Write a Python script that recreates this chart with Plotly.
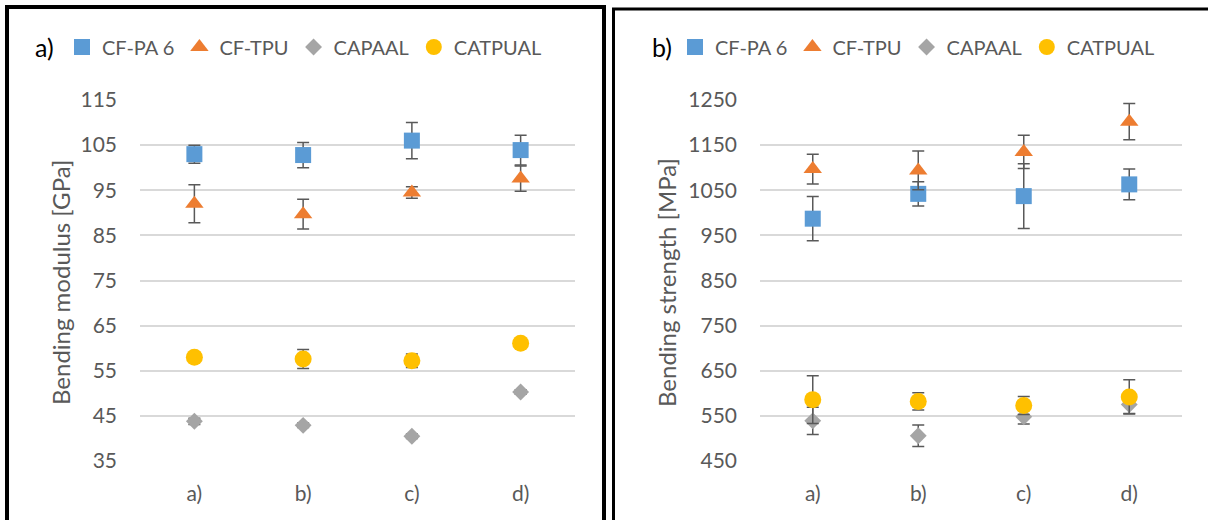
import plotly.graph_objects as go

categories = ["a)", "b)", "c)", "d)"]
series_names = ["CF-PA 6", "CF-TPU", "CAPAAL", "CATPUAL"]

# Bending modulus [GPa]
mod_cfpa6 = [103.0, 102.8, 106.0, 103.9]
mod_cfpa6_err = [2.0, 2.8, 4.0, 3.3]
mod_cftpu = [92.0, 89.7, 94.5, 97.6]
mod_cftpu_err = [4.2, 3.3, 1.3, 2.8]
mod_capaal = [43.8, 42.9, 40.5, 50.3]
mod_capaal_err = [0.7, 0.5, 0.5, 0.5]
mod_catpual = [58.0, 57.6, 57.2, 61.1]
mod_catpual_err = [0.4, 2.1, 1.5, 0.4]

# Bending strength [MPa]
str_cfpa6 = [987, 1042, 1037, 1063]
str_cfpa6_err = [49, 27, 72, 34]
str_cftpu = [1097, 1094, 1135, 1202]
str_cftpu_err = [33, 43, 37, 40]
str_capaal = [539, 506, 548, 575]
str_capaal_err = [30, 24, 16, 20]
str_catpual = [586, 582, 573, 592]
str_catpual_err = [53, 19, 20, 38]

mod_ticks = [35, 45, 55, 65, 75, 85, 95, 105, 115]
str_ticks = [450, 550, 650, 750, 850, 950, 1050, 1150, 1250]

colors = ["#5B9BD5", "#ED7D31", "#A5A5A5", "#FFC000"]
symbols = ["square", "triangle-up", "diamond", "circle"]
sizes = [16, 16, 13, 17]
TXT = "#595959"
FONT = "Lato, Open Sans, sans-serif"

W, H = 1208, 520
fig = go.Figure()

x_idx = list(range(len(categories)))

mod_sets = [(mod_cfpa6, mod_cfpa6_err), (mod_cftpu, mod_cftpu_err),
            (mod_capaal, mod_capaal_err), (mod_catpual, mod_catpual_err)]
str_sets = [(str_cfpa6, str_cfpa6_err), (str_cftpu, str_cftpu_err),
            (str_capaal, str_capaal_err), (str_catpual, str_catpual_err)]

for i, (vals, errs) in enumerate(mod_sets):
    fig.add_trace(go.Scatter(
        x=x_idx, y=vals, mode="markers", name=series_names[i],
        marker=dict(symbol=symbols[i], size=sizes[i], color=colors[i], line=dict(width=0)),
        error_y=dict(type="data", array=errs, visible=True, color=TXT, thickness=1.5, width=6),
        xaxis="x", yaxis="y", legend="legend", cliponaxis=False,
    ))
for i, (vals, errs) in enumerate(str_sets):
    fig.add_trace(go.Scatter(
        x=x_idx, y=vals, mode="markers", name=series_names[i],
        marker=dict(symbol=symbols[i], size=sizes[i], color=colors[i], line=dict(width=0)),
        error_y=dict(type="data", array=errs, visible=True, color=TXT, thickness=1.5, width=6),
        xaxis="x2", yaxis="y2", legend="legend2", cliponaxis=False,
    ))

ydom = [1 - 461 / H, 1 - 100 / H]
common_x = dict(range=[-0.5, 3.5], tickvals=x_idx, ticktext=categories, showgrid=False,
                zeroline=False, showline=False, ticks="", ticklabelstandoff=18,
                tickfont=dict(size=21, color=TXT, family=FONT), fixedrange=True, automargin=False)
common_y = dict(showgrid=True, gridcolor="#D9D9D9", gridwidth=1.5, zeroline=False, showline=False,
                ticks="", ticklabelstandoff=22, automargin=False,
                tickfont=dict(size=21, color=TXT, family=FONT))

leg_common = dict(orientation="h", xanchor="left", y=1 - 47 / H, yanchor="middle",
                  bgcolor="rgba(0,0,0,0)",
                  font=dict(size=20, color=TXT, family=FONT), itemclick=False,
                  itemdoubleclick=False, tracegroupgap=0)

fig.update_layout(
    width=W, height=H, margin=dict(l=0, r=0, t=0, b=0, autoexpand=False),
    paper_bgcolor="white", plot_bgcolor="white",
    font=dict(family=FONT, color=TXT),
    xaxis=dict(domain=[140 / W, 575 / W], anchor="y", **common_x),
    yaxis=dict(domain=ydom, anchor="x", range=[35, 115], tickvals=mod_ticks, **common_y),
    xaxis2=dict(domain=[760 / W, 1182 / W], anchor="y2", **common_x),
    yaxis2=dict(domain=ydom, anchor="x2", range=[450, 1250], tickvals=str_ticks, **common_y),
    legend=dict(x=62 / W, **leg_common),
    legend2=dict(x=675 / W, **leg_common),
    showlegend=True,
)

fig.add_annotation(x=44 / W, y=1 - 47 / H, xref="paper", yref="paper", text="a)", showarrow=False,
                   font=dict(size=25, color="black", family=FONT), xanchor="center", yanchor="middle")
fig.add_annotation(x=662 / W, y=1 - 47 / H, xref="paper", yref="paper", text="b)", showarrow=False,
                   font=dict(size=25, color="black", family=FONT), xanchor="center", yanchor="middle")
fig.add_annotation(x=60 / W, y=1 - 283 / H, xref="paper", yref="paper", text="Bending modulus [GPa]",
                   textangle=-90, showarrow=False, font=dict(size=24, color=TXT, family=FONT),
                   xanchor="center", yanchor="middle")
fig.add_annotation(x=666 / W, y=1 - 283 / H, xref="paper", yref="paper", text="Bending strength [MPa]",
                   textangle=-90, showarrow=False, font=dict(size=24, color=TXT, family=FONT),
                   xanchor="center", yanchor="middle")

# panel frames (only the visible edges)
frame = [
    (7, 7, 7, 530, 4), (5, 7, 606, 7, 4), (604, 7, 604, 530, 4),
    (613.5, 9, 613.5, 530, 3), (612, 9, 1220, 9, 3),
]
for x0, y0, x1, y1, w in frame:
    fig.add_shape(type="line", xref="paper", yref="paper", x0=x0 / W, x1=x1 / W,
                  y0=1 - y0 / H, y1=1 - y1 / H, line=dict(color="black", width=w))

fig.write_html("out.html", config={"displayModeBar": False},
               post_script="document.body.style.margin='0';document.body.style.overflow='hidden';")
